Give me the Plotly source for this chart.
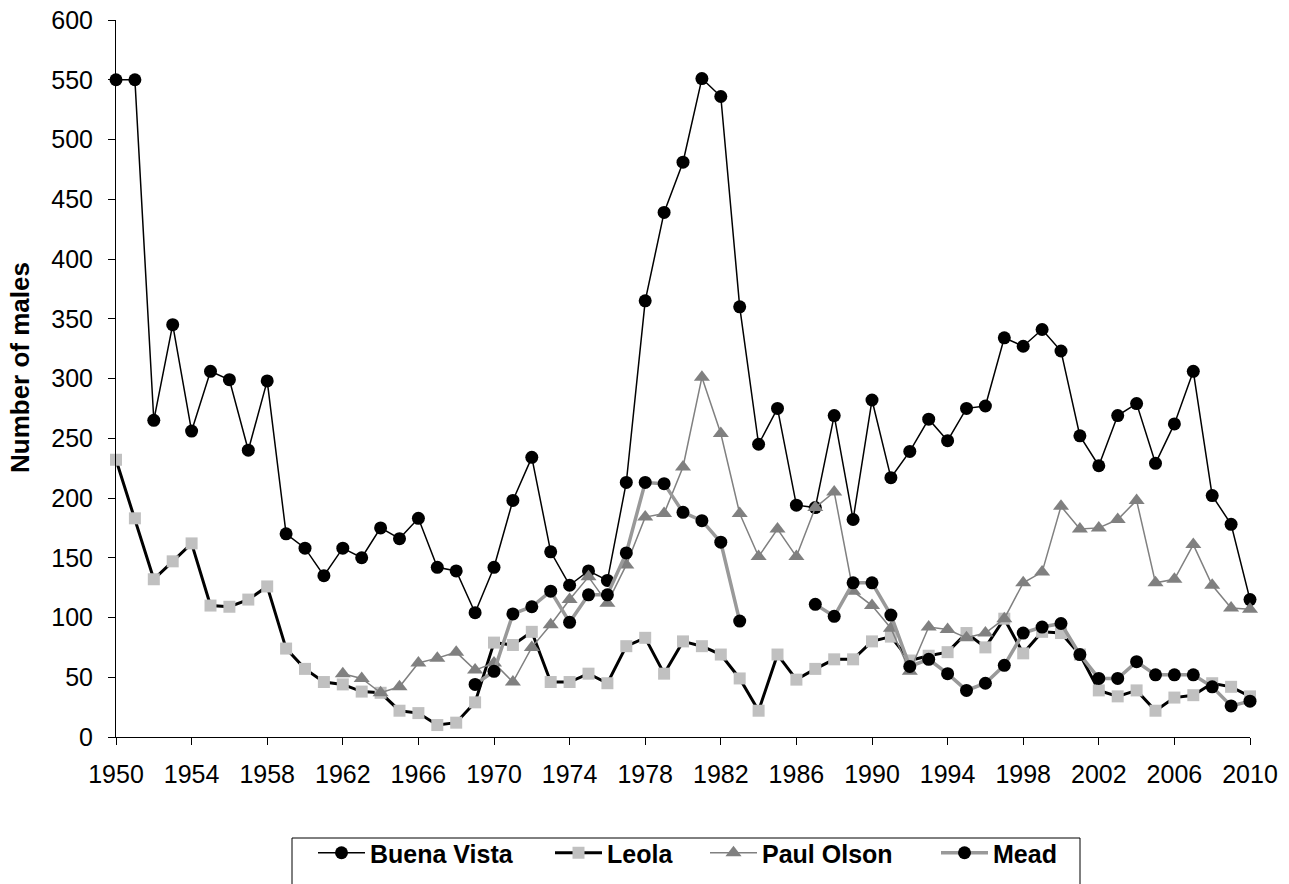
import plotly.graph_objects as go

years = list(range(1950, 2011))

buena_vista = [550, 550, 265, 345, 256, 306, 299, 240, 298, 170,
               158, 135, 158, 150, 175, 166, 183, 142, 139, 104,
               142, 198, 234, 155, 127, 139, 131, 213, 365, 439,
               481, 551, 536, 360, 245, 275, 194, 192, 269, 182,
               282, 217, 239, 266, 248, 275, 277, 334, 327, 341,
               323, 252, 227, 269, 279, 229, 262, 306, 202, 178,
               115]

leola = [232, 183, 132, 147, 162, 110, 109, 115, 126, 74,
         57, 46, 44, 38, 37, 22, 20, 10, 12, 29,
         79, 77, 88, 46, 46, 53, 45, 76, 83, 53,
         80, 76, 69, 49, 22, 69, 48, 57, 65, 65,
         80, 84, 64, 68, 71, 87, 75, 99, 70, 88,
         87, 69, 39, 34, 39, 22, 33, 35, 45, 42,
         34]

paul_olson = [None] * 12 + [53, 49, 37, 42, 62, 66, 71, 56,
              62, 46, 75, 94, 115, 134, 112, 144, 184, 187,
              226, 301, 254, 187, 151, 174, 151, 192, 205, 122,
              110, 91, 55, 92, 90, 83, 87, 99, 129, 138,
              193, 174, 175, 182, 198, 129, 132, 161, 127, 108,
              107]

mead = [None] * 19 + [44,
        55, 103, 109, 122, 96, 119, 119, 154, 213, 212,
        188, 181, 163, 97, None, None, None, 111, 101, 129,
        129, 102, 59, 65, 53, 39, 45, 60, 87, 92,
        95, 69, 49, 49, 63, 52, 52, 52, 42, 26,
        30]

x_ticks = list(range(1950, 2011, 4))
y_ticks = list(range(0, 601, 50))

FONT = "Liberation Sans, Arial, sans-serif"

# plot area in page pixels (body margin removed below)
PX_L, PX_R, PX_T, PX_B = 116, 1250, 20, 737
OFF = 0
W, H = 1289, 884


def px_x(px):
    return (px - PX_L) / (PX_R - PX_L)


def px_y(py):
    return (PX_B - py) / (PX_B - PX_T)


fig = go.Figure()
fig.add_trace(go.Scatter(x=years, y=buena_vista, name="Buena Vista", mode="lines+markers",
                         line=dict(color="black", width=1.5),
                         marker=dict(symbol="circle", size=13, color="black"),
                         cliponaxis=False, legend="legend"))
fig.add_trace(go.Scatter(x=years, y=leola, name="Leola", mode="lines+markers",
                         line=dict(color="black", width=3),
                         marker=dict(symbol="square", size=12, color="#C0C0C0"),
                         cliponaxis=False, legend="legend2"))
fig.add_trace(go.Scatter(x=years, y=paul_olson, name="Paul Olson", mode="lines+markers",
                         line=dict(color="#808080", width=1.5),
                         marker=dict(symbol="triangle-up", size=14, color="#808080"),
                         cliponaxis=False, legend="legend3"))
fig.add_trace(go.Scatter(x=years, y=mead, name="Mead", mode="lines+markers",
                         line=dict(color="#999999", width=3.5),
                         marker=dict(symbol="circle", size=13, color="black"),
                         connectgaps=False, cliponaxis=False, legend="legend4"))

leg_font = dict(family=FONT, size=25, color="black", weight="bold")
leg_y = px_y(830)
ITEM_W = 47


def leg(text_start_px):
    return dict(orientation="h", x=px_x(text_start_px - ITEM_W - 10), xanchor="left",
                y=leg_y, yanchor="top", itemwidth=ITEM_W,
                borderwidth=0, bgcolor="rgba(0,0,0,0)", font=leg_font)


fig.update_layout(
    width=W, height=H,
    margin=dict(l=PX_L - OFF, r=W - PX_R + OFF, t=PX_T - OFF, b=H - PX_B + OFF, autoexpand=False),
    paper_bgcolor="white", plot_bgcolor="white",
    font=dict(family=FONT, size=25, color="black"),
    showlegend=True,
    legend=leg(370), legend2=leg(607), legend3=leg(762), legend4=leg(993),
    xaxis=dict(range=[1950, 2010], tickvals=x_ticks, ticktext=[str(v) for v in x_ticks],
               showgrid=False, zeroline=False, showline=True, linecolor="black", linewidth=1,
               ticks="outside", ticklen=7, tickcolor="black", ticklabelstandoff=8,
               ticklabeloverflow="allow",
               tickfont=dict(family=FONT, size=25, color="black")),
    yaxis=dict(range=[0, 600], tickvals=y_ticks, showgrid=False, zeroline=False,
               showline=True, linecolor="black", linewidth=1,
               ticks="outside", ticklen=7, tickcolor="black", ticklabelstandoff=10,
               ticklabeloverflow="allow",
               tickfont=dict(family=FONT, size=25, color="black")),
    annotations=[dict(text="<b>Number of males</b>", textangle=-90,
                      xref="paper", yref="paper", x=0, y=px_y(368), xanchor="center", yanchor="middle",
                      xshift=-(PX_L - 20), showarrow=False,
                      font=dict(family=FONT, size=26, color="black"))],
    shapes=[dict(type="rect", xref="paper", yref="paper",
                 x0=px_x(292), x1=px_x(1080), y0=px_y(838), y1=px_y(920),
                 line=dict(color="black", width=1), fillcolor="rgba(0,0,0,0)", layer="above")],
)

fig.write_html("out.html", config={"displayModeBar": False},
               post_script="document.body.style.margin='0px';document.body.style.overflow='hidden';")
